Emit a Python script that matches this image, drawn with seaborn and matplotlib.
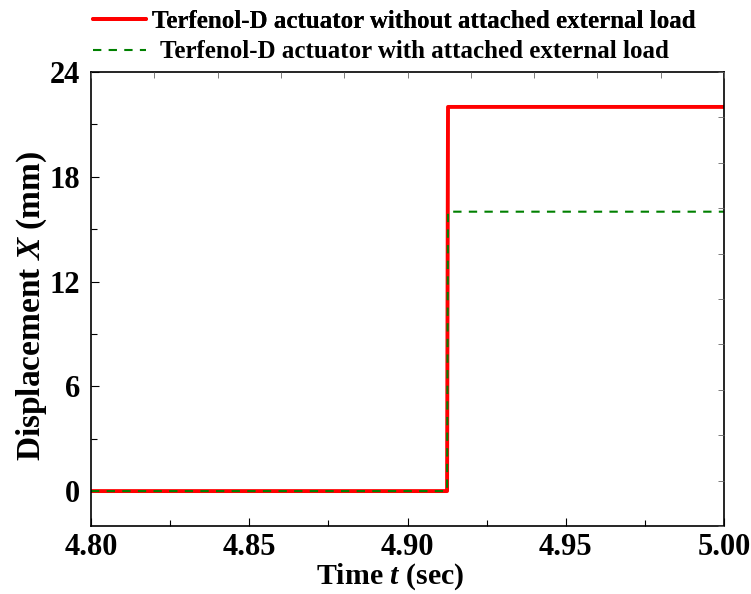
import numpy as np
import pandas as pd
import matplotlib
matplotlib.use("Agg")
import matplotlib.pyplot as plt
import seaborn as sns
from matplotlib.ticker import MultipleLocator, FixedLocator

# Step response of the Terfenol-D actuator
time_s = [4.80, 4.9125, 4.9128, 5.00]
disp_no_load = [0.0, 0.0, 22.0, 22.0]
disp_with_load = [0.0, 0.0, 16.0, 16.0]
label_no_load = "Terfenol-D actuator without attached external load"
label_with_load = "Terfenol-D actuator with attached external load"
x_ticks = [4.80, 4.85, 4.90, 4.95, 5.00]
y_ticks = [0, 6, 12, 18, 24]

sns.set_theme(style="white")
plt.rcParams["font.family"] = ["Liberation Serif", "DejaVu Serif"]
plt.rcParams["font.weight"] = "bold"
plt.rcParams["mathtext.fontset"] = "custom"
plt.rcParams["mathtext.it"] = "Liberation Serif:italic:bold"
plt.rcParams["mathtext.rm"] = "Liberation Serif:bold"
for key in ("text.color", "axes.labelcolor", "xtick.color", "ytick.color"):
    plt.rcParams[key] = "black"

df = pd.DataFrame({
    "t": time_s * 2,
    "x": disp_no_load + disp_with_load,
    "case": [label_no_load] * len(time_s) + [label_with_load] * len(time_s),
})

fig = plt.figure(figsize=(7.51, 5.94), dpi=100)
ax = fig.add_axes([91 / 751, 1 - 526 / 594, (724 - 91) / 751, (526 - 72) / 594])

sns.lineplot(data=df[df.case == label_no_load], x="t", y="x", ax=ax,
             color="#ff0000", linewidth=2.8, label=label_no_load, legend=False)
sns.lineplot(data=df[df.case == label_with_load], x="t", y="x", ax=ax,
             color="#008000", linewidth=1.5, linestyle=(0, (4, 3.5)),
             label=label_with_load, legend=False)

ax.set_xlim(4.80, 5.00)
ax.set_ylim(-2, 24)
ax.set_xticks(x_ticks)
ax.set_xticklabels([f"{v:.2f}" for v in x_ticks])
ax.set_yticks(y_ticks)
ax.xaxis.set_minor_locator(MultipleLocator(0.025))
ax.yaxis.set_minor_locator(MultipleLocator(3))
ax.tick_params(which="both", direction="in", top=False, right=False,
               labelsize=22, pad=8, labelcolor="black")
ax.tick_params(axis="x", which="both", pad=5)
ax.tick_params(which="major", length=6, width=0.8, color="black")
ax.tick_params(which="minor", length=4, width=0.8, color="black")
for lab in ax.get_xticklabels() + ax.get_yticklabels():
    lab.set_fontweight("bold")
for sp in ax.spines.values():
    sp.set_color("black")
    sp.set_linewidth(1.2)

# ticks on top and right edges dividing the frame into ten parts
ax_top = ax.twiny()
ax_top.set_xlim(0, 1)
ax_top.xaxis.set_major_locator(FixedLocator(np.linspace(0, 1, 11)))
ax_top.tick_params(direction="in", length=4, width=0.6, color="#666666",
                   labeltop=False)
ax_right = ax.twinx()
ax_right.set_ylim(0, 1)
ax_right.yaxis.set_major_locator(FixedLocator(np.linspace(0, 1, 11)))
ax_right.tick_params(direction="in", length=4, width=0.6, color="#666666",
                     labelright=False)
for a in (ax_top, ax_right):
    for sp in a.spines.values():
        sp.set_visible(False)

ax.set_xlabel(r"Time $t$ (sec)", fontsize=21.5, fontweight="bold", color="black")
ax.xaxis.set_label_coords(0.472, -0.077)
ax.set_ylabel(r"Displacement $X$ (mm)", fontsize=24, fontweight="bold",
              color="black")
ax.yaxis.set_label_coords(-0.067, 0.485)

handles, labels = ax.get_legend_handles_labels()
leg_prop = {"family": "Liberation Serif", "weight": "bold", "size": 18}
leg1 = fig.legend(handles[:1], labels[:1], loc="center left",
                  bbox_to_anchor=(93 / 751, 1 - 21 / 594), frameon=False,
                  prop=leg_prop, handlelength=2.1, handletextpad=0.28,
                  borderaxespad=0, borderpad=0, labelcolor="black")
fig.add_artist(leg1)
fig.legend(handles[1:], labels[1:], loc="center left",
           bbox_to_anchor=(93 / 751, 1 - 52 / 594), frameon=False,
           prop=leg_prop, handlelength=2.1, handletextpad=0.6,
           borderaxespad=0, borderpad=0, labelcolor="black")

fig.savefig("out.png", dpi=100)
